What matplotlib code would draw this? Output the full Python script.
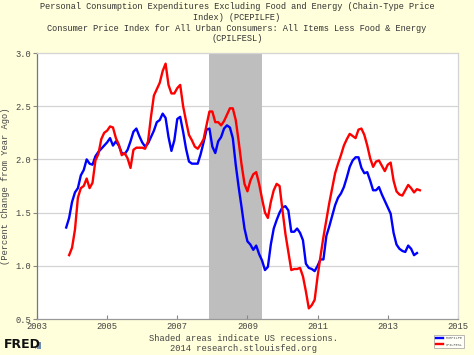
import numpy as np
import pandas as pd
import matplotlib
matplotlib.use("Agg")
import matplotlib.pyplot as plt

# monthly year-over-year % change
pce_start = "2003-11"
pce = [1.36, 1.45, 1.60, 1.69, 1.73, 1.85, 1.90, 2.00, 1.96, 1.95, 2.03, 2.07,
       2.10, 2.13, 2.16, 2.20, 2.13, 2.17, 2.13, 2.06, 2.05, 2.09, 2.17, 2.26,
       2.29, 2.22, 2.16, 2.12, 2.15, 2.21, 2.27, 2.35, 2.37, 2.43, 2.39, 2.21,
       2.08, 2.18, 2.38, 2.40, 2.26, 2.10, 1.98, 1.96, 1.96, 1.96, 2.05, 2.16,
       2.28, 2.29, 2.12, 2.06, 2.17, 2.21, 2.29, 2.32, 2.30, 2.20, 1.95, 1.74,
       1.55, 1.35, 1.23, 1.20, 1.15, 1.19, 1.11, 1.05, 0.96, 0.99, 1.20, 1.35,
       1.43, 1.50, 1.55, 1.56, 1.52, 1.32, 1.32, 1.35, 1.31, 1.24, 1.02, 0.98,
       0.97, 0.95, 1.00, 1.06, 1.06, 1.28, 1.37, 1.47, 1.57, 1.64, 1.68, 1.74,
       1.83, 1.93, 1.99, 2.02, 2.02, 1.92, 1.87, 1.88, 1.80, 1.71, 1.71, 1.74,
       1.67, 1.61, 1.55, 1.49, 1.31, 1.20, 1.16, 1.14, 1.13, 1.19, 1.16, 1.10,
       1.12]

cpi_start = "2003-12"
cpi = [1.10, 1.17, 1.34, 1.64, 1.73, 1.75, 1.82, 1.73, 1.78, 1.99, 2.05, 2.19,
       2.25, 2.27, 2.31, 2.30, 2.20, 2.14, 2.04, 2.06, 2.01, 1.92, 2.09, 2.11,
       2.11, 2.11, 2.10, 2.17, 2.40, 2.60, 2.66, 2.72, 2.83, 2.90, 2.70, 2.62,
       2.62, 2.67, 2.70, 2.50, 2.36, 2.23, 2.18, 2.12, 2.10, 2.14, 2.19, 2.32,
       2.45, 2.45, 2.35, 2.35, 2.32, 2.36, 2.42, 2.48, 2.48, 2.37, 2.17, 1.95,
       1.77, 1.70, 1.80, 1.86, 1.88, 1.77, 1.63, 1.50, 1.45, 1.60, 1.71, 1.77,
       1.75, 1.52, 1.30, 1.13, 0.96, 0.97, 0.97, 0.98, 0.90, 0.76, 0.60, 0.63,
       0.68, 0.90, 1.09, 1.27, 1.43, 1.59, 1.73, 1.87, 1.96, 2.04, 2.13, 2.19,
       2.24, 2.22, 2.20, 2.28, 2.29, 2.23, 2.13, 2.01, 1.93, 1.98, 1.99, 1.94,
       1.89, 1.95, 1.97, 1.80, 1.70, 1.67, 1.66, 1.71, 1.76, 1.73, 1.69, 1.72,
       1.71]

recession = ("2007-12", "2009-06")

title = ("Personal Consumption Expenditures Excluding Food and Energy (Chain-Type Price\n"
         "Index) (PCEPILFE)\n"
         "Consumer Price Index for All Urban Consumers: All Items Less Food & Energy\n"
         "(CPILFESL)")


def to_year(start, n):
    d = pd.date_range(start, periods=n, freq="MS")
    return d.year + (d.month - 1) / 12.0


x_pce = to_year(pce_start, len(pce))
x_cpi = to_year(cpi_start, len(cpi))
r0 = to_year(recession[0], 1)[0]
r1 = to_year(recession[1], 1)[0]

mono = "Liberation Mono"
bg = "#FFFFDC"

fig = plt.figure(figsize=(4.74, 3.55), dpi=100, facecolor=bg)
ax = fig.add_axes([0.078, 0.1014, 0.888, 0.7493])
ax.set_facecolor("white")

ax.axvspan(r0, r1, color="#BEBEBE", lw=0, zorder=1)
for g in [1.0, 1.5, 2.0, 2.5]:
    ax.axhline(g, color="#D4D4D4", lw=0.9, zorder=0)

ax.plot(x_pce, pce, color="#0000FF", lw=1.7, zorder=3, label="PCEPILFE")
ax.plot(x_cpi, cpi, color="#FF0000", lw=1.7, zorder=3, label="CPILFESL")

ax.set_xlim(2003, 2015)
ax.set_ylim(0.5, 3.0)
ax.set_xticks(range(2003, 2016, 2))
ax.set_yticks([0.5, 1.0, 1.5, 2.0, 2.5, 3.0])
ax.set_yticklabels(["0.5", "1.0", "1.5", "2.0", "2.5", "3.0"])
ax.tick_params(axis="x", direction="in", length=3, color="#888888",
               labelsize=6.3, labelcolor="#444444", pad=2)
ax.tick_params(axis="y", direction="out", length=3, color="#888888",
               labelsize=6.3, labelcolor="#444444", pad=1)
for lab in ax.get_xticklabels() + ax.get_yticklabels():
    lab.set_family(mono)

ax.spines["left"].set_color("#777777")
ax.spines["bottom"].set_color("#999999")
ax.spines["top"].set_color("#D4D4D4")
ax.spines["right"].set_color("#D4D4D4")
for s in ax.spines.values():
    s.set_linewidth(0.9)

ax.set_ylabel("(Percent Change from Year Ago)", family=mono, fontsize=6.3,
              color="#444444", labelpad=4)

fig.text(0.5, 0.993, title, ha="center", va="top", family=mono,
         fontsize=6.2, color="#333333", linespacing=1.22)

fig.text(0.513, 0.032, "Shaded areas indicate US recessions.\n2014 research.stlouisfed.org",
         ha="center", va="center", family=mono, fontsize=6.3, color="#444444",
         linespacing=1.05)

fig.text(0.008, 0.012, "FRED", ha="left", va="bottom", family="DejaVu Sans",
         fontsize=9, fontweight="bold", color="#111111")
icon = fig.add_axes([0.073, 0.016, 0.014, 0.022])
icon.bar([0, 1, 2], [0.5, 0.8, 1.0], color=["#9BB0C8", "#7F9AB8", "#6F8DAE"], width=0.7)
icon.axis("off")

leg = ax.legend(loc="lower right", bbox_to_anchor=(0.983, 0.014),
                bbox_transform=fig.transFigure,
                prop={"family": mono, "size": 2.5}, frameon=True,
                handlelength=2.0, borderpad=0.5, labelspacing=0.6,
                fancybox=False, edgecolor="#999999")
leg.get_frame().set_linewidth(0.6)
for t in leg.get_texts():
    t.set_color("#555555")

fig.savefig("out.png", dpi=100, facecolor=bg)
